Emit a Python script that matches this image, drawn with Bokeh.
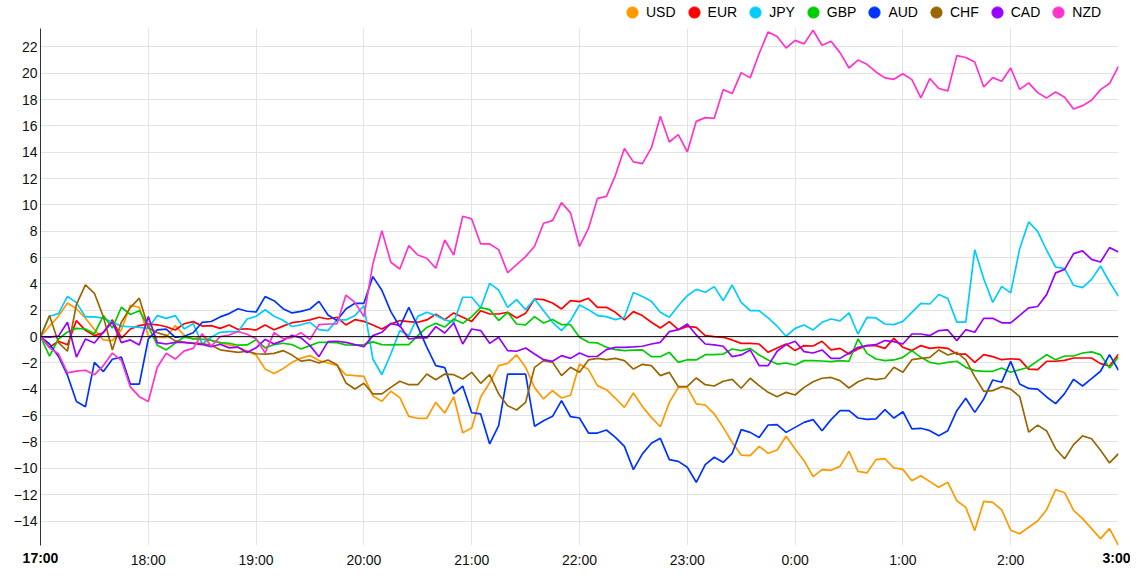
from bokeh.plotting import figure
from bokeh.layouts import column
from bokeh.models import Range1d, FixedTicker, Span, Legend, LegendItem, LinearAxis
from bokeh.embed import file_html
from bokeh.resources import INLINE

CURRENCIES = ["USD", "EUR", "JPY", "GBP", "AUD", "CHF", "CAD", "NZD"]
COLORS = ["#FF9900", "#FF0000", "#00CCFF", "#00CC00", "#0033FF", "#996600", "#9900FF", "#FF33CC"]
HOUR_TICKS = [0, 1, 2, 3, 4, 5, 6, 7, 8, 9, 10]
HOUR_LABELS = ["17:00", "18:00", "19:00", "20:00", "21:00", "22:00", "23:00",
               "0:00", "1:00", "2:00", "3:00"]
Y_TICKS = [-14, -12, -10, -8, -6, -4, -2, 0, 2, 4, 6, 8, 10, 12, 14, 16, 18, 20, 22]
STEP_MINUTES = 5

USD = [0, 0.8, 1.55, 2.56, 2.12, 1.4, 0.55, -0.25, -0.3, 0.5,
       2.38, 2.23, 0.08, -0.05, -0.05, 0.84, 0.1, -0.2, 0.05, -0.3,
       -0.48, -0.63, -0.8, -1.1, -1.4, -2.45, -2.8, -2.43, -1.95, -1.63,
       -1.44, -1.82, -2.0, -2.18, -2.91, -2.96, -3.01, -4.5, -4.91, -4.15,
       -4.63, -6.05, -6.2, -6.2, -4.99, -5.8, -4.57, -7.3, -6.94, -4.58,
       -3.5, -2.2, -2.03, -1.38, -2.33, -3.87, -4.73, -4.1, -4.66, -4.45,
       -2.08, -2.5, -3.72, -4.03, -4.68, -5.37, -4.28, -5.3, -6.13, -6.84,
       -4.99, -3.85, -3.85, -5.11, -5.19, -5.87, -6.89, -8.03, -8.99, -9.04,
       -8.33, -8.86, -8.61, -7.57, -8.53, -9.42, -10.63, -10.1, -10.15, -9.85,
       -8.71, -10.23, -10.35, -9.34, -9.27, -9.97, -10.08, -10.94, -10.56, -11.01,
       -11.44, -11.06, -12.46, -12.96, -14.73, -12.51, -12.58, -13.15, -14.7, -14.97,
       -14.47, -14.0, -13.14, -11.62, -11.85, -13.19, -13.82, -14.58, -15.34, -14.58, -15.85]

EUR = [0, -0.8, -0.35, -0.62, 1.22, 0.48, 0.08, 0.3, 1.28, -0.12,
       0.58, 0.84, 0.96, 0.9, 0.75, 0.5, 0.98, 1.14, 0.8, 0.84,
       0.63, 0.89, 0.55, 0.6, 0.5, 0.89, 0.53, 0.8, 1.06, 1.15,
       1.27, 1.47, 1.34, 1.47, 0.89, 1.29, 1.16, 0.89, 0.58, 0.96,
       1.22, 1.14, 1.09, 1.27, 1.7, 1.29, 1.8, 1.47, 1.16, 1.97,
       1.72, 1.72, 1.85, 1.42, 1.77, 2.86, 2.81, 2.56, 2.1, 2.73,
       2.66, 2.91, 2.23, 2.23, 1.85, 1.27, 1.9, 1.6, 1.09, 0.66,
       1.14, 0.53, 0.78, 0.71, 0.08, 0, -0.05, -0.25, -0.51, -0.51,
       -0.56, -1.19, -0.86, -0.56, -1.06, -0.68, -0.71, -0.35, -1.0, -0.89,
       -1.32, -0.94, -0.68, -0.68, -0.89, -0.13, -0.81, -1.06, -0.68, -0.89,
       -0.81, -0.89, -1.32, -1.32, -1.95, -1.37, -1.52, -1.75, -1.68, -1.73,
       -2.47, -2.5, -1.87, -1.87, -1.8, -1.62, -1.62, -1.62, -2.05, -2.23, -1.34]

JPY = [0, 1.55, 1.75, 3.06, 2.58, 1.5, 1.5, 1.4, 1.1, 0.8,
       0.75, 0.7, 0.63, 1.6, 1.39, 1.6, 0.58, 1.0, -0.56, -0.05,
       0.33, 0.38, 0.38, 1.34, 1.55, 2.04, 1.55, 1.24, 0.77, 0.9,
       1.09, 0.53, 0.46, 1.27, 1.27, 1.6, 2.35, -1.7, -2.89, -1.32,
       0.46, 0.08, 1.54, 1.85, 1.6, 1.27, 1.09, 2.99, 2.99, 2.18,
       4.05, 3.54, 2.23, 2.81, 2.05, 2.86, 1.97, 1.09, 0.46, 1.22,
       2.4, 2.05, 1.6, 1.52, 1.29, 1.47, 3.35, 3.05, 2.68, 1.85,
       1.47, 2.35, 3.11, 3.59, 3.37, 3.8, 2.73, 3.92, 2.6, 1.97,
       1.97, 1.42, 0.79, 0.03, 0.63, 0.89, 0.51, 1.09, 1.34, 1.2,
       1.8, 0.2, 1.47, 1.42, 0.96, 0.91, 1.16, 1.85, 2.53, 2.48,
       3.2, 2.9, 1.1, 1.1, 6.6, 4.4, 2.6, 3.82, 3.32, 6.68,
       8.71, 8.0, 6.56, 5.29, 5.16, 3.9, 3.72, 4.35, 5.37, 4.15, 3.06]

GBP = [0, -1.48, -0.18, 0.35, 0.63, 0.58, 0.22, 1.6, 0.65, 2.23,
       1.68, 1.97, 0.77, -0.65, -1.01, -0.49, -0.03, -0.15, -0.2, -0.27,
       -0.45, -0.5, -0.65, -0.63, -0.23, -0.85, -0.6, -0.5, -0.6, -0.94,
       -0.68, -0.43, -0.43, -0.45, -0.62, -0.65, -0.6, -0.4, -0.61, -0.62,
       -0.61, -0.61, 0.08, 0.7, 1.01, 0.73, 1.34, 1.01, 1.52, 2.2,
       2.05, 1.22, 1.85, 0.96, 0.89, 1.52, 1.04, 1.3, 0.91, 0.91,
       -0.05, -0.43, -0.48, -0.81, -0.99, -1.06, -1.03, -1.0, -1.52, -1.52,
       -1.19, -1.95, -1.75, -1.77, -1.37, -1.37, -1.32, -0.94, -1.06, -0.89,
       -1.39, -1.77, -2.08, -2.0, -2.15, -1.82, -1.82, -1.85, -1.9, -1.82,
       -1.87, -0.18, -1.27, -1.7, -1.82, -1.77, -1.57, -1.06, -1.57, -1.95,
       -2.08, -1.95, -1.87, -2.33, -2.58, -2.63, -2.63, -2.38, -2.7, -2.51,
       -2.32, -1.84, -1.37, -1.75, -1.47, -1.47, -1.24, -1.16, -1.37, -2.38, -1.54]

AUD = [0, -0.56, -1.5, -2.93, -4.92, -5.33, -1.95, -2.65, -1.72, -1.55,
       -3.6, -3.6, -0.18, 0.52, 0.57, -0.05, 0.03, 0.3, 1.09, 1.15,
       1.5, 1.75, 2.12, 1.93, 1.87, 3.04, 2.73, 2.12, 1.8, 1.92,
       2.1, 2.68, 1.65, 1.22, 2.1, 2.53, 2.53, 4.56, 3.52, 1.9,
       0.75, 2.23, 0.76, -0.8, -2.2, -2.35, -4.35, -3.75, -5.78, -5.87,
       -8.15, -6.76, -2.84, -2.84, -2.84, -6.81, -6.38, -6.05, -4.86, -6.08,
       -6.18, -7.32, -7.32, -7.09, -7.65, -8.33, -10.1, -8.9, -8.1, -7.72,
       -9.34, -9.47, -9.92, -11.06, -9.72, -9.16, -9.54, -8.86, -7.06, -7.27,
       -7.65, -6.71, -6.68, -7.27, -6.89, -6.51, -6.3, -7.14, -6.3, -5.62,
       -5.62, -6.18, -6.28, -6.25, -5.54, -6.18, -5.7, -7.01, -6.96, -7.14,
       -7.52, -7.14, -5.62, -4.68, -5.75, -4.73, -3.29, -3.46, -1.88, -3.6,
       -3.93, -3.98, -4.58, -5.09, -4.33, -3.24, -3.75, -3.19, -2.63, -1.37, -2.56]

CHF = [0, 1.6, -0.45, -1.11, 2.45, 3.93, 3.29, 1.5, -1.01, 1.09,
       2.2, 2.92, 0.67, 0.3, 0.1, -0.32, -0.43, -0.48, -0.52, -0.66,
       -1.0, -1.1, -1.2, -1.11, -1.3, -1.32, -1.27, -1.06, -1.4, -1.86,
       -1.77, -2.0, -1.77, -2.13, -3.52, -3.97, -3.54, -4.35, -4.35, -3.85,
       -3.39, -3.65, -3.65, -2.84, -3.28, -2.84, -2.89, -3.22, -2.71, -3.54,
       -2.89, -4.35, -5.24, -5.57, -4.99, -2.33, -1.82, -1.95, -2.96, -2.33,
       -2.71, -1.77, -1.65, -1.75, -1.65, -1.82, -2.46, -2.1, -2.2, -2.96,
       -2.71, -3.8, -3.77, -3.14, -3.65, -3.75, -3.39, -3.24, -3.92, -3.16,
       -3.72, -4.23, -4.56, -4.23, -4.43, -3.85, -3.42, -3.16, -3.1, -3.34,
       -3.9, -3.42, -3.16, -3.27, -3.16, -2.33, -2.71, -1.75, -1.65, -1.57,
       -1.01, -1.39, -1.19, -1.77, -3.04, -4.15, -4.1, -3.8, -3.98, -4.55,
       -7.25, -6.72, -7.16, -8.51, -9.27, -8.2, -7.54, -7.75, -8.63, -9.59, -8.89]

CAD = [0, -0.03, 0.04, 1.09, -1.55, -0.18, -0.48, 0.35, 1.1, -0.45,
       -0.25, -0.63, 1.52, -0.45, -0.56, -0.43, -0.43, -0.52, -0.6, -0.77,
       -0.58, -0.85, -0.8, -1.2, -0.85, -0.2, -0.55, -0.3, 0.1, -0.1,
       -0.68, -1.52, -0.38, -0.35, -0.43, -0.61, -0.76, 0.08, 0.33, 1.01,
       0.84, -0.18, -0.1, -0.1, 0.76, 0.28, 1.04, -0.56, 0.58, 0.46,
       -0.51, -0.05, -1.06, -1.11, -0.86, -1.32, -1.75, -1.87, -1.44, -1.65,
       -1.24, -1.52, -1.49, -0.99, -0.81, -0.81, -0.78, -0.73, -0.56, -0.43,
       0.38, 0.53, 0.96, 0.13, -0.56, -0.63, -0.73, -1.52, -1.39, -1.01,
       -2.2, -2.2, -1.11, -0.61, -0.35, -1.14, -1.24, -1.01, -1.65, -1.65,
       -1.24, -0.81, -0.68, -0.61, -0.3, -0.38, -0.56, 0.2, 0.2, 0.08,
       0.46, 0.51, -0.3, 0.53, 0.33, 1.39, 1.39, 1.05, 1.04, 1.61,
       2.19, 2.29, 3.19, 4.84, 5.11, 6.3, 6.51, 5.87, 5.67, 6.76, 6.43]

NZD = [0, -0.85, -1.3, -2.75, -2.62, -2.55, -2.9, -2.2, -1.25, -1.8,
       -3.82, -4.56, -4.92, -2.33, -1.26, -1.7, -1.08, -0.89, 0.22, -0.73,
       0, 0.12, 0.39, 0.18, -0.15, -1.23, 0.3, -0.15, -0.07, 0.3,
       -0.23, 0.91, 0.96, 0.96, 3.16, 2.6, 1.52, 5.52, 8.05, 5.65,
       5.14, 6.91, 6.2, 5.95, 5.19, 7.34, 6.2, 9.14, 8.94, 7.04,
       7.04, 6.61, 4.86, 5.47, 6.08, 6.86, 8.61, 8.81, 10.18, 9.4,
       6.85, 8.22, 10.5, 10.65, 12.25, 14.28, 13.27, 13.14, 14.33, 16.73,
       14.78, 15.34, 14.03, 16.35, 16.63, 16.58, 18.76, 18.46, 20.05, 19.65,
       21.5, 23.14, 22.8, 21.92, 22.5, 22.23, 23.27, 22.13, 22.43, 21.57,
       20.4, 21.0, 20.68, 20.1, 19.65, 19.54, 19.97, 19.52, 18.13, 19.6,
       18.84, 18.66, 21.34, 21.2, 20.86, 18.96, 19.67, 19.39, 20.4, 18.78,
       19.27, 18.53, 18.13, 18.58, 18.18, 17.29, 17.54, 17.95, 18.76, 19.22, 20.53]

SERIES = [USD, EUR, JPY, GBP, AUD, CHF, CAD, NZD]
FONT = "Liberation Sans"

# ---------------- main chart ----------------
p = figure(width=1130, height=549, output_backend="svg", toolbar_location=None,
           x_range=Range1d(0, 10), y_range=Range1d(-15.86, 23.4),
           min_border_left=40, min_border_right=12, min_border_top=0, min_border_bottom=32)
p.outline_line_color = None
p.background_fill_color = "white"
p.border_fill_color = "white"

xa = p.xaxis[0]
xa.ticker = FixedTicker(ticks=HOUR_TICKS[1:-1])
xa.major_label_overrides = {t: lab for t, lab in zip(HOUR_TICKS, HOUR_LABELS)}
xa.axis_line_color = None
xa.major_tick_line_color = None
xa.minor_tick_line_color = None
xa.major_tick_out = 0
xa.major_tick_in = 0
xa.major_label_standoff = 6
xa.major_label_text_font = FONT
xa.major_label_text_font_size = "14px"
xa.major_label_text_color = "#111111"

# bold end labels on a second axis lifted onto the same row
xb = LinearAxis(ticker=FixedTicker(ticks=[HOUR_TICKS[0], HOUR_TICKS[-1]]),
                major_label_overrides={HOUR_TICKS[0]: HOUR_LABELS[0], HOUR_TICKS[-1]: HOUR_LABELS[-1]})
xb.axis_line_color = None
xb.major_tick_line_color = None
xb.minor_tick_line_color = None
xb.major_tick_out = 0
xb.major_tick_in = 0
xb.major_label_standoff = -21
xb.major_label_text_font = FONT
xb.major_label_text_font_size = "14px"
xb.major_label_text_font_style = "bold"
xb.major_label_text_color = "#000000"
p.add_layout(xb, "below")

ya = p.yaxis[0]
ya.ticker = FixedTicker(ticks=Y_TICKS)
ya.axis_line_color = "#333333"
ya.axis_line_width = 1
ya.major_tick_line_color = None
ya.minor_tick_line_color = None
ya.major_tick_out = 0
ya.major_tick_in = 0
ya.major_label_standoff = 3
ya.major_label_text_font = FONT
ya.major_label_text_font_size = "14px"
ya.major_label_text_color = "#111111"

p.xgrid.ticker = FixedTicker(ticks=HOUR_TICKS)
p.xgrid.grid_line_color = "#e3e3e3"
p.ygrid.grid_line_color = "#e3e3e3"

p.add_layout(Span(location=0, dimension="width", line_color="#000000", line_width=1))

x = [i * STEP_MINUTES / 60 for i in range(len(USD))]
for col, ys in zip(COLORS, SERIES):
    p.line(x, ys, line_color=col, line_width=1.7)

# ---------------- legend strip ----------------
lg = figure(width=1130, height=28, output_backend="svg", toolbar_location=None,
            x_range=Range1d(0, 1), y_range=Range1d(0, 1),
            x_axis_location=None, y_axis_location=None,
            min_border_left=0, min_border_right=0, min_border_top=0, min_border_bottom=0)
lg.outline_line_color = None
lg.grid.visible = False
lg.background_fill_color = "white"
lg.border_fill_color = "white"

items = []
for name, col in zip(CURRENCIES, COLORS):
    # key glyph only: its single point lies outside the strip's range
    r = lg.scatter([-1], [-1], marker="circle", fill_color=col, line_color=col)
    items.append(LegendItem(label=name, renderers=[r]))

legend = Legend(items=items, orientation="horizontal", location=(578, 2),
                glyph_width=28, glyph_height=28, label_standoff=0, spacing=4,
                padding=0, margin=0, background_fill_alpha=0, border_line_alpha=0,
                label_text_font=FONT, label_text_font_size="14px",
                label_text_color="#000000")
lg.add_layout(legend)

layout = column(lg, p, spacing=0)
open("out.html", "w").write(file_html(layout, INLINE))
